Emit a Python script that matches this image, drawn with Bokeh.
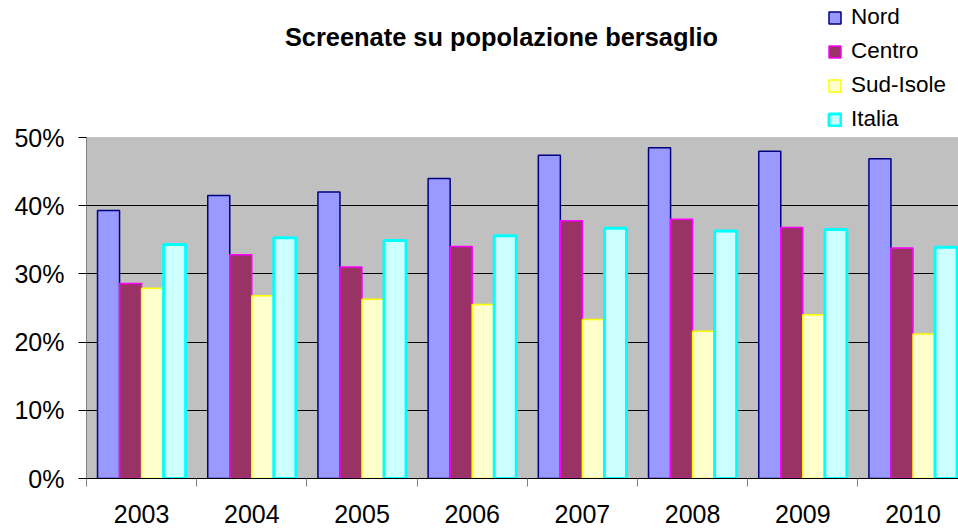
from bokeh.plotting import figure
from bokeh.models import (ColumnDataSource, Range1d, FixedTicker, PrintfTickFormatter,
                          Legend, LegendItem, Label, BoxAnnotation)
from bokeh.transform import dodge
from bokeh.embed import file_html
from bokeh.resources import INLINE

# ---- data ----
years = ["2003", "2004", "2005", "2006", "2007", "2008", "2009", "2010"]
nord = [39.3, 41.5, 42.0, 44.0, 47.4, 48.5, 48.0, 46.9]
centro = [28.6, 32.8, 31.0, 34.0, 37.8, 38.0, 36.8, 33.8]
sud_isole = [27.9, 26.8, 26.3, 25.5, 23.3, 21.6, 24.0, 21.2]
italia = [34.3, 35.3, 34.9, 35.6, 36.7, 36.3, 36.5, 33.9]
y_ticks = [0, 10, 20, 30, 40, 50]
title_text = "Screenate su popolazione bersaglio"

FONT = "Liberation Sans"

idx = list(range(len(years)))
src = ColumnDataSource(dict(x=idx, years=years, nord=nord, centro=centro,
                            sud=sud_isole, italia=italia))

# layout geometry (pixels)
W, H = 958, 530
left_b, bottom_b = 86, 52
frame_w, frame_h = W - left_b, H - bottom_b
plot_top_px = 137            # where 50% sits
cat_px = 110.2
y_max = y_ticks[-1]
y_end = y_max * frame_h / (frame_h - plot_top_px)

p = figure(width=W, height=H, output_backend="svg", toolbar_location=None,
           x_range=Range1d(-0.5, -0.5 + frame_w / cat_px), y_range=Range1d(0, y_end),
           min_border_left=left_b, min_border_right=0, min_border_top=0,
           min_border_bottom=bottom_b,
           background_fill_color="white", border_fill_color="white",
           outline_line_color=None)

# grey plot area (0..50%)
p.add_layout(BoxAnnotation(bottom=0, top=y_max, fill_color="#C0C0C0", fill_alpha=1,
                           line_color="#808080", line_width=1, level="image"))

bw = 0.2
r1 = p.vbar(x=dodge("x", -0.3, range=p.x_range), top="nord", width=bw, source=src,
            fill_color="#9999FF", line_color="#000080", line_width=1.5)
r2 = p.vbar(x=dodge("x", -0.1, range=p.x_range), top="centro", width=bw, source=src,
            fill_color="#993366", line_color="#FF00FF", line_width=1.5)
r3 = p.vbar(x=dodge("x", 0.1, range=p.x_range), top="sud", width=bw, source=src,
            fill_color="#FFFFCC", line_color="#FFFF00", line_width=1.5)
r4 = p.vbar(x=dodge("x", 0.3, range=p.x_range), top="italia", width=bw, source=src,
            fill_color="#CCFFFF", line_color="#00FFFF", line_width=3)

# grid
p.xgrid.grid_line_color = None
p.ygrid.ticker = FixedTicker(ticks=y_ticks[1:-1])
p.ygrid.grid_line_color = "black"
p.ygrid.grid_line_width = 1
p.ygrid.level = "underlay"

# x axis
xa = p.xaxis[0]
xa.ticker = FixedTicker(ticks=idx, minor_ticks=[i - 0.5 for i in range(len(years) + 1)])
xa.major_label_overrides = {i: y for i, y in enumerate(years)}
xa.major_tick_out = 0
xa.major_tick_in = 0
xa.major_tick_line_color = None
xa.minor_tick_out = 8
xa.minor_tick_in = 0
xa.minor_tick_line_color = "#808080"
xa.axis_line_color = "black"
xa.major_label_standoff = 18
xa.major_label_text_font = FONT
xa.major_label_text_font_size = "25px"
xa.major_label_text_color = "black"

# y axis
ya = p.yaxis[0]
ya.bounds = (0, y_max)
ya.ticker = FixedTicker(ticks=y_ticks)
ya.formatter = PrintfTickFormatter(format="%d%%")
ya.major_tick_out = 8
ya.major_tick_in = 0
ya.major_tick_line_color = "black"
ya.minor_tick_line_color = None
ya.axis_line_color = "#808080"
ya.major_label_standoff = 14
ya.major_label_text_font = FONT
ya.major_label_text_font_size = "25px"
ya.major_label_text_color = "black"

# legend (inside the white area above the grey plot area)
legend = Legend(items=[LegendItem(label="Nord", renderers=[r1]),
                       LegendItem(label="Centro", renderers=[r2]),
                       LegendItem(label="Sud-Isole", renderers=[r3]),
                       LegendItem(label="Italia", renderers=[r4])],
                location=(827 - left_b, frame_h - 132), orientation="vertical",
                glyph_width=15, glyph_height=15, label_standoff=9, spacing=8,
                padding=0, margin=0, border_line_color=None, background_fill_alpha=0,
                label_text_font=FONT, label_text_font_size="22.5px", label_text_color="black")
p.add_layout(legend, "center")

# title
p.add_layout(Label(x=501 - left_b, y=frame_h - 36, x_units="screen", y_units="screen",
                   text=title_text, text_align="center", text_baseline="middle",
                   text_font=FONT, text_font_size="25.4px", text_font_style="bold",
                   text_color="black"))

open("out.html", "w").write(file_html(p, INLINE))
